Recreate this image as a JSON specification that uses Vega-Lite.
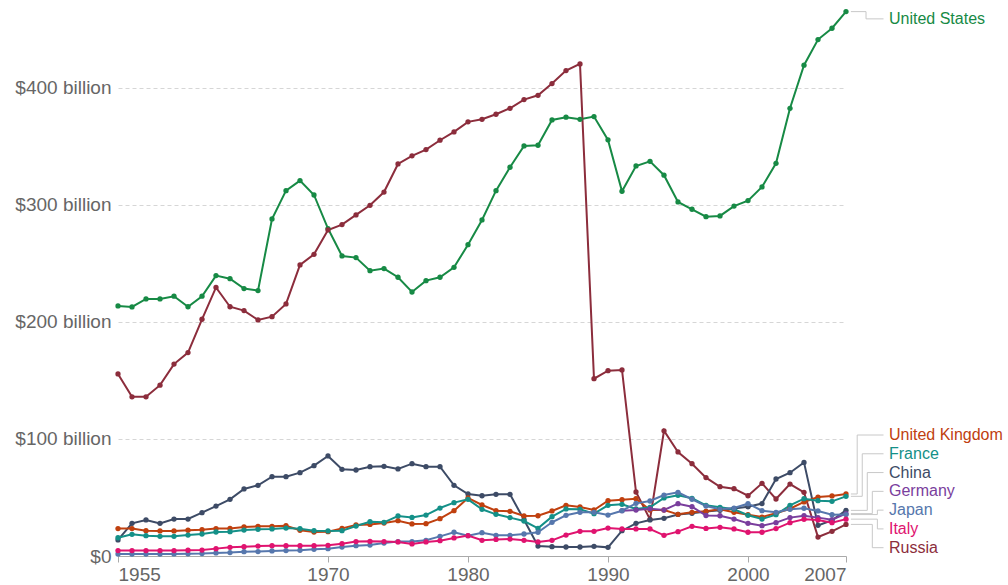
{
"$schema":"https://vega.github.io/schema/vega-lite/v6.json",
"width":728,"height":550,
"autosize":{"type":"none"},
"padding":{"left":118,"top":6,"right":162,"bottom":29},
"config":{"font":"Liberation Sans","view":{"stroke":null},
"axisX":{"domainColor":"#aaaaaa","tickColor":"#aaaaaa","tickSize":6,"labelColor":"#666666","labelFontSize":19,"labelFlush":true,"labelPadding":3,"grid":false},
"axisY":{"domain":false,"ticks":false,"labelColor":"#666666","labelFontSize":19,"labelPadding":7,"gridColor":"#d6d6d6","gridDash":[4,3]}},
"datasets":{"mil":[
{"country":"United States","year":1955,"value":213.7},{"country":"United States","year":1956,"value":212.8},{"country":"United States","year":1957,"value":219.7},{"country":"United States","year":1958,"value":219.7},{"country":"United States","year":1959,"value":222},{"country":"United States","year":1960,"value":213},{"country":"United States","year":1961,"value":222},{"country":"United States","year":1962,"value":239.6},{"country":"United States","year":1963,"value":237},{"country":"United States","year":1964,"value":228.5},{"country":"United States","year":1965,"value":226.8},{"country":"United States","year":1966,"value":288},{"country":"United States","year":1967,"value":312.2},{"country":"United States","year":1968,"value":320.8},{"country":"United States","year":1969,"value":308.5},{"country":"United States","year":1970,"value":279.8},{"country":"United States","year":1971,"value":256.4},{"country":"United States","year":1972,"value":255},{"country":"United States","year":1973,"value":243.8},{"country":"United States","year":1974,"value":245.6},{"country":"United States","year":1975,"value":238.2},{"country":"United States","year":1976,"value":225.6},{"country":"United States","year":1977,"value":235.3},{"country":"United States","year":1978,"value":238.2},{"country":"United States","year":1979,"value":246.7},{"country":"United States","year":1980,"value":266},{"country":"United States","year":1981,"value":287.2},{"country":"United States","year":1982,"value":312.2},{"country":"United States","year":1983,"value":332.2},{"country":"United States","year":1984,"value":350.4},{"country":"United States","year":1985,"value":351},{"country":"United States","year":1986,"value":372.6},{"country":"United States","year":1987,"value":375},{"country":"United States","year":1988,"value":373.2},{"country":"United States","year":1989,"value":375.5},{"country":"United States","year":1990,"value":355.6},{"country":"United States","year":1991,"value":311.7},{"country":"United States","year":1992,"value":333.3},{"country":"United States","year":1993,"value":337.3},{"country":"United States","year":1994,"value":325.4},{"country":"United States","year":1995,"value":302.6},{"country":"United States","year":1996,"value":296.3},{"country":"United States","year":1997,"value":290},{"country":"United States","year":1998,"value":290.6},{"country":"United States","year":1999,"value":299},{"country":"United States","year":2000,"value":303.7},{"country":"United States","year":2001,"value":315.4},{"country":"United States","year":2002,"value":335.6},{"country":"United States","year":2003,"value":382.6},{"country":"United States","year":2004,"value":419.4},{"country":"United States","year":2005,"value":441.3},{"country":"United States","year":2006,"value":451},{"country":"United States","year":2007,"value":465.2},
{"country":"Russia","year":1955,"value":155.6},{"country":"Russia","year":1956,"value":136},{"country":"Russia","year":1957,"value":136},{"country":"Russia","year":1958,"value":146},{"country":"Russia","year":1959,"value":164},{"country":"Russia","year":1960,"value":173.8},{"country":"Russia","year":1961,"value":202.3},{"country":"Russia","year":1962,"value":229.5},{"country":"Russia","year":1963,"value":213},{"country":"Russia","year":1964,"value":209.7},{"country":"Russia","year":1965,"value":201.7},{"country":"Russia","year":1966,"value":204.5},{"country":"Russia","year":1967,"value":215.4},{"country":"Russia","year":1968,"value":248.7},{"country":"Russia","year":1969,"value":257.8},{"country":"Russia","year":1970,"value":278.6},{"country":"Russia","year":1971,"value":283.2},{"country":"Russia","year":1972,"value":291.5},{"country":"Russia","year":1973,"value":299.7},{"country":"Russia","year":1974,"value":311},{"country":"Russia","year":1975,"value":335},{"country":"Russia","year":1976,"value":342},{"country":"Russia","year":1977,"value":347.3},{"country":"Russia","year":1978,"value":355.3},{"country":"Russia","year":1979,"value":362.4},{"country":"Russia","year":1980,"value":371},{"country":"Russia","year":1981,"value":373.2},{"country":"Russia","year":1982,"value":377.5},{"country":"Russia","year":1983,"value":382.6},{"country":"Russia","year":1984,"value":390},{"country":"Russia","year":1985,"value":393.7},{"country":"Russia","year":1986,"value":403.7},{"country":"Russia","year":1987,"value":414.8},{"country":"Russia","year":1988,"value":420.5},{"country":"Russia","year":1989,"value":151.5},{"country":"Russia","year":1990,"value":158.4},{"country":"Russia","year":1991,"value":159},{"country":"Russia","year":1992,"value":54.7},{"country":"Russia","year":1993,"value":31.3},{"country":"Russia","year":1994,"value":107},{"country":"Russia","year":1995,"value":88.9},{"country":"Russia","year":1996,"value":78.9},{"country":"Russia","year":1997,"value":67},{"country":"Russia","year":1998,"value":59.2},{"country":"Russia","year":1999,"value":57.5},{"country":"Russia","year":2000,"value":51.5},{"country":"Russia","year":2001,"value":62.1},{"country":"Russia","year":2002,"value":48.7},{"country":"Russia","year":2003,"value":61.5},{"country":"Russia","year":2004,"value":54.4},{"country":"Russia","year":2005,"value":16.2},{"country":"Russia","year":2006,"value":21.1},{"country":"Russia","year":2007,"value":27},
{"country":"China","year":1955,"value":13.7},{"country":"China","year":1956,"value":27.9},{"country":"China","year":1957,"value":30.8},{"country":"China","year":1958,"value":27.9},{"country":"China","year":1959,"value":31.6},{"country":"China","year":1960,"value":31.6},{"country":"China","year":1961,"value":37},{"country":"China","year":1962,"value":42.7},{"country":"China","year":1963,"value":48.4},{"country":"China","year":1964,"value":57.3},{"country":"China","year":1965,"value":60.4},{"country":"China","year":1966,"value":67.8},{"country":"China","year":1967,"value":67.8},{"country":"China","year":1968,"value":71.2},{"country":"China","year":1969,"value":77.2},{"country":"China","year":1970,"value":85.5},{"country":"China","year":1971,"value":74.1},{"country":"China","year":1972,"value":73.5},{"country":"China","year":1973,"value":76.3},{"country":"China","year":1974,"value":76.6},{"country":"China","year":1975,"value":74.4},{"country":"China","year":1976,"value":78.9},{"country":"China","year":1977,"value":76.3},{"country":"China","year":1978,"value":76.3},{"country":"China","year":1979,"value":60.4},{"country":"China","year":1980,"value":53},{"country":"China","year":1981,"value":51.5},{"country":"China","year":1982,"value":52.7},{"country":"China","year":1983,"value":52.7},{"country":"China","year":1984,"value":31},{"country":"China","year":1985,"value":8.5},{"country":"China","year":1986,"value":8},{"country":"China","year":1987,"value":7.7},{"country":"China","year":1988,"value":7.7},{"country":"China","year":1989,"value":8.3},{"country":"China","year":1990,"value":7.4},{"country":"China","year":1991,"value":21.6},{"country":"China","year":1992,"value":27.9},{"country":"China","year":1993,"value":30.8},{"country":"China","year":1994,"value":32.2},{"country":"China","year":1995,"value":35.5},{"country":"China","year":1996,"value":36.5},{"country":"China","year":1997,"value":38},{"country":"China","year":1998,"value":39},{"country":"China","year":1999,"value":40.5},{"country":"China","year":2000,"value":42.1},{"country":"China","year":2001,"value":44.8},{"country":"China","year":2002,"value":65.8},{"country":"China","year":2003,"value":71.2},{"country":"China","year":2004,"value":80},{"country":"China","year":2005,"value":26.2},{"country":"China","year":2006,"value":30.5},{"country":"China","year":2007,"value":39},
{"country":"United Kingdom","year":1955,"value":23.4},{"country":"United Kingdom","year":1956,"value":23.4},{"country":"United Kingdom","year":1957,"value":21.6},{"country":"United Kingdom","year":1958,"value":21.4},{"country":"United Kingdom","year":1959,"value":21.4},{"country":"United Kingdom","year":1960,"value":22},{"country":"United Kingdom","year":1961,"value":22.5},{"country":"United Kingdom","year":1962,"value":23.4},{"country":"United Kingdom","year":1963,"value":23.6},{"country":"United Kingdom","year":1964,"value":24.8},{"country":"United Kingdom","year":1965,"value":25.4},{"country":"United Kingdom","year":1966,"value":25.4},{"country":"United Kingdom","year":1967,"value":25.9},{"country":"United Kingdom","year":1968,"value":22},{"country":"United Kingdom","year":1969,"value":20.5},{"country":"United Kingdom","year":1970,"value":20.8},{"country":"United Kingdom","year":1971,"value":23.6},{"country":"United Kingdom","year":1972,"value":26.5},{"country":"United Kingdom","year":1973,"value":27},{"country":"United Kingdom","year":1974,"value":28.2},{"country":"United Kingdom","year":1975,"value":30.2},{"country":"United Kingdom","year":1976,"value":27.4},{"country":"United Kingdom","year":1977,"value":27.6},{"country":"United Kingdom","year":1978,"value":31.9},{"country":"United Kingdom","year":1979,"value":38.7},{"country":"United Kingdom","year":1980,"value":49.6},{"country":"United Kingdom","year":1981,"value":43.6},{"country":"United Kingdom","year":1982,"value":38.7},{"country":"United Kingdom","year":1983,"value":38.2},{"country":"United Kingdom","year":1984,"value":34.2},{"country":"United Kingdom","year":1985,"value":34.4},{"country":"United Kingdom","year":1986,"value":38.5},{"country":"United Kingdom","year":1987,"value":43.3},{"country":"United Kingdom","year":1988,"value":41.9},{"country":"United Kingdom","year":1989,"value":39.3},{"country":"United Kingdom","year":1990,"value":47.3},{"country":"United Kingdom","year":1991,"value":48.1},{"country":"United Kingdom","year":1992,"value":49},{"country":"United Kingdom","year":1993,"value":39.3},{"country":"United Kingdom","year":1994,"value":39.3},{"country":"United Kingdom","year":1995,"value":35.6},{"country":"United Kingdom","year":1996,"value":37.3},{"country":"United Kingdom","year":1997,"value":38.2},{"country":"United Kingdom","year":1998,"value":39.9},{"country":"United Kingdom","year":1999,"value":37.3},{"country":"United Kingdom","year":2000,"value":35.3},{"country":"United Kingdom","year":2001,"value":33.3},{"country":"United Kingdom","year":2002,"value":36.5},{"country":"United Kingdom","year":2003,"value":40.4},{"country":"United Kingdom","year":2004,"value":46.2},{"country":"United Kingdom","year":2005,"value":50.4},{"country":"United Kingdom","year":2006,"value":51.3},{"country":"United Kingdom","year":2007,"value":53},
{"country":"France","year":1955,"value":15.6},{"country":"France","year":1956,"value":18.5},{"country":"France","year":1957,"value":17.4},{"country":"France","year":1958,"value":16.8},{"country":"France","year":1959,"value":16.8},{"country":"France","year":1960,"value":17.9},{"country":"France","year":1961,"value":18.8},{"country":"France","year":1962,"value":20.5},{"country":"France","year":1963,"value":20.8},{"country":"France","year":1964,"value":22.2},{"country":"France","year":1965,"value":22.8},{"country":"France","year":1966,"value":23.1},{"country":"France","year":1967,"value":23.9},{"country":"France","year":1968,"value":23.3},{"country":"France","year":1969,"value":21.6},{"country":"France","year":1970,"value":21.4},{"country":"France","year":1971,"value":21.6},{"country":"France","year":1972,"value":25.6},{"country":"France","year":1973,"value":29.3},{"country":"France","year":1974,"value":28.8},{"country":"France","year":1975,"value":34.2},{"country":"France","year":1976,"value":33},{"country":"France","year":1977,"value":35},{"country":"France","year":1978,"value":41},{"country":"France","year":1979,"value":45.6},{"country":"France","year":1980,"value":48.4},{"country":"France","year":1981,"value":39.9},{"country":"France","year":1982,"value":35.6},{"country":"France","year":1983,"value":32.8},{"country":"France","year":1984,"value":29.9},{"country":"France","year":1985,"value":23.6},{"country":"France","year":1986,"value":33.6},{"country":"France","year":1987,"value":40.2},{"country":"France","year":1988,"value":39.9},{"country":"France","year":1989,"value":36.2},{"country":"France","year":1990,"value":43.3},{"country":"France","year":1991,"value":44.2},{"country":"France","year":1992,"value":40.2},{"country":"France","year":1993,"value":41.6},{"country":"France","year":1994,"value":49.6},{"country":"France","year":1995,"value":51.9},{"country":"France","year":1996,"value":49.3},{"country":"France","year":1997,"value":43.3},{"country":"France","year":1998,"value":41.6},{"country":"France","year":1999,"value":39.9},{"country":"France","year":2000,"value":34.8},{"country":"France","year":2001,"value":31.6},{"country":"France","year":2002,"value":35.3},{"country":"France","year":2003,"value":43.3},{"country":"France","year":2004,"value":49},{"country":"France","year":2005,"value":47.3},{"country":"France","year":2006,"value":46.7},{"country":"France","year":2007,"value":51},
{"country":"Germany","year":1991,"value":38.7},{"country":"Germany","year":1992,"value":39.3},{"country":"Germany","year":1993,"value":40.3},{"country":"Germany","year":1994,"value":39.3},{"country":"Germany","year":1995,"value":44.7},{"country":"Germany","year":1996,"value":42.1},{"country":"Germany","year":1997,"value":34.6},{"country":"Germany","year":1998,"value":34.4},{"country":"Germany","year":1999,"value":31.6},{"country":"Germany","year":2000,"value":27.9},{"country":"Germany","year":2001,"value":25.9},{"country":"Germany","year":2002,"value":28.5},{"country":"Germany","year":2003,"value":32.8},{"country":"Germany","year":2004,"value":34.4},{"country":"Germany","year":2005,"value":32.8},{"country":"Germany","year":2006,"value":31},{"country":"Germany","year":2007,"value":36.2},
{"country":"Japan","year":1955,"value":1.7},{"country":"Japan","year":1956,"value":1.7},{"country":"Japan","year":1957,"value":1.7},{"country":"Japan","year":1958,"value":1.7},{"country":"Japan","year":1959,"value":1.8},{"country":"Japan","year":1960,"value":1.9},{"country":"Japan","year":1961,"value":2.1},{"country":"Japan","year":1962,"value":2.6},{"country":"Japan","year":1963,"value":2.9},{"country":"Japan","year":1964,"value":3.7},{"country":"Japan","year":1965,"value":3.8},{"country":"Japan","year":1966,"value":4.3},{"country":"Japan","year":1967,"value":4.6},{"country":"Japan","year":1968,"value":4.9},{"country":"Japan","year":1969,"value":5.7},{"country":"Japan","year":1970,"value":6.3},{"country":"Japan","year":1971,"value":7.7},{"country":"Japan","year":1972,"value":8.8},{"country":"Japan","year":1973,"value":9.4},{"country":"Japan","year":1974,"value":11.1},{"country":"Japan","year":1975,"value":12.3},{"country":"Japan","year":1976,"value":12.3},{"country":"Japan","year":1977,"value":13.4},{"country":"Japan","year":1978,"value":16.8},{"country":"Japan","year":1979,"value":20.3},{"country":"Japan","year":1980,"value":17.4},{"country":"Japan","year":1981,"value":19.9},{"country":"Japan","year":1982,"value":17.7},{"country":"Japan","year":1983,"value":17.7},{"country":"Japan","year":1984,"value":18.8},{"country":"Japan","year":1985,"value":20.3},{"country":"Japan","year":1986,"value":28.8},{"country":"Japan","year":1987,"value":34.8},{"country":"Japan","year":1988,"value":37.3},{"country":"Japan","year":1989,"value":37.3},{"country":"Japan","year":1990,"value":35},{"country":"Japan","year":1991,"value":38.7},{"country":"Japan","year":1992,"value":45},{"country":"Japan","year":1993,"value":47},{"country":"Japan","year":1994,"value":52.1},{"country":"Japan","year":1995,"value":54.4},{"country":"Japan","year":1996,"value":48.5},{"country":"Japan","year":1997,"value":42.7},{"country":"Japan","year":1998,"value":39.9},{"country":"Japan","year":1999,"value":41},{"country":"Japan","year":2000,"value":44.7},{"country":"Japan","year":2001,"value":38.7},{"country":"Japan","year":2002,"value":37.3},{"country":"Japan","year":2003,"value":39.9},{"country":"Japan","year":2004,"value":40.8},{"country":"Japan","year":2005,"value":38.5},{"country":"Japan","year":2006,"value":35.3},{"country":"Japan","year":2007,"value":35.4},
{"country":"Italy","year":1955,"value":4.6},{"country":"Italy","year":1956,"value":4.6},{"country":"Italy","year":1957,"value":4.6},{"country":"Italy","year":1958,"value":4.6},{"country":"Italy","year":1959,"value":4.6},{"country":"Italy","year":1960,"value":4.9},{"country":"Italy","year":1961,"value":5.1},{"country":"Italy","year":1962,"value":6.3},{"country":"Italy","year":1963,"value":7.4},{"country":"Italy","year":1964,"value":8},{"country":"Italy","year":1965,"value":8.5},{"country":"Italy","year":1966,"value":8.8},{"country":"Italy","year":1967,"value":8.8},{"country":"Italy","year":1968,"value":8.8},{"country":"Italy","year":1969,"value":8.8},{"country":"Italy","year":1970,"value":9.1},{"country":"Italy","year":1971,"value":10.5},{"country":"Italy","year":1972,"value":12.3},{"country":"Italy","year":1973,"value":12.5},{"country":"Italy","year":1974,"value":12.3},{"country":"Italy","year":1975,"value":12},{"country":"Italy","year":1976,"value":10.3},{"country":"Italy","year":1977,"value":12},{"country":"Italy","year":1978,"value":13.1},{"country":"Italy","year":1979,"value":15.4},{"country":"Italy","year":1980,"value":17.4},{"country":"Italy","year":1981,"value":13.4},{"country":"Italy","year":1982,"value":14.2},{"country":"Italy","year":1983,"value":14.5},{"country":"Italy","year":1984,"value":13.4},{"country":"Italy","year":1985,"value":12},{"country":"Italy","year":1986,"value":13.4},{"country":"Italy","year":1987,"value":17.9},{"country":"Italy","year":1988,"value":21.1},{"country":"Italy","year":1989,"value":21.1},{"country":"Italy","year":1990,"value":23.9},{"country":"Italy","year":1991,"value":23.1},{"country":"Italy","year":1992,"value":23.1},{"country":"Italy","year":1993,"value":23.1},{"country":"Italy","year":1994,"value":17.7},{"country":"Italy","year":1995,"value":20.8},{"country":"Italy","year":1996,"value":25.4},{"country":"Italy","year":1997,"value":23.6},{"country":"Italy","year":1998,"value":24.5},{"country":"Italy","year":1999,"value":23.1},{"country":"Italy","year":2000,"value":20.3},{"country":"Italy","year":2001,"value":20.3},{"country":"Italy","year":2002,"value":23.4},{"country":"Italy","year":2003,"value":28.5},{"country":"Italy","year":2004,"value":31.3},{"country":"Italy","year":2005,"value":30.8},{"country":"Italy","year":2006,"value":28.5},{"country":"Italy","year":2007,"value":31.5}
]},
"data":{"name":"mil"},
"layer":[
{"mark":{"type":"line","strokeWidth":2,"point":{"size":28,"filled":true}},
"encoding":{
"x":{"field":"year","type":"quantitative","scale":{"domain":[1955,2007],"nice":false,"zero":false},"axis":{"values":[1955,1970,1980,1990,2000,2007],"format":"d","title":null}},
"y":{"field":"value","type":"quantitative","scale":{"domain":[0,470],"nice":false},"axis":{"values":[0,100,200,300,400],"title":null,"labelExpr":"datum.value == 0 ? '$0' : '$' + datum.value + ' billion'"}},
"color":{"field":"country","type":"nominal","legend":null,"scale":{"domain":["United States","Russia","China","United Kingdom","France","Germany","Japan","Italy"],"range":["#178a45","#8c2d3c","#3d4b66","#c0400f","#149088","#7a3e9d","#5677ad","#e0136f"]}},
"detail":{"field":"country"}}},
{"transform":[
{"filter":"datum.year == 2007"},
{"window":[{"op":"row_number","as":"rank"}],"sort":[{"field":"value","order":"descending"}]},
{"calculate":"datum.rank == 1 ? 459 : 103.4 - (datum.rank - 2) * 16.05","as":"labelY"},
{"calculate":"datum.rank == 1 ? 2008.43 : (datum.labelY >= datum.value ? 2007.8 + 0.36 * (datum.rank - 2) : 2007.8 + 0.36 * (11 - datum.rank))","as":"elbow"},
{"calculate":"2007.35","as":"x0"},
{"calculate":"2009.68","as":"x1"},
{"calculate":"2010.07","as":"xt"}
],
"layer":[
{"mark":{"type":"rule","color":"#c8c8c8","strokeWidth":1},
"encoding":{"x":{"field":"x0","type":"quantitative","title":null},"x2":{"field":"elbow"},"y":{"field":"value","type":"quantitative","title":null}}},
{"mark":{"type":"rule","color":"#c8c8c8","strokeWidth":1},
"encoding":{"x":{"field":"elbow","type":"quantitative","title":null},"y":{"field":"value","type":"quantitative","title":null},"y2":{"field":"labelY"}}},
{"mark":{"type":"rule","color":"#c8c8c8","strokeWidth":1},
"encoding":{"x":{"field":"elbow","type":"quantitative","title":null},"x2":{"field":"x1"},"y":{"field":"labelY","type":"quantitative","title":null}}},
{"mark":{"type":"text","align":"left","baseline":"middle","fontSize":16},
"encoding":{"x":{"field":"xt","type":"quantitative","title":null},"y":{"field":"labelY","type":"quantitative","title":null},"text":{"field":"country"},"color":{"field":"country","type":"nominal","legend":null}}}
]}
]
}
